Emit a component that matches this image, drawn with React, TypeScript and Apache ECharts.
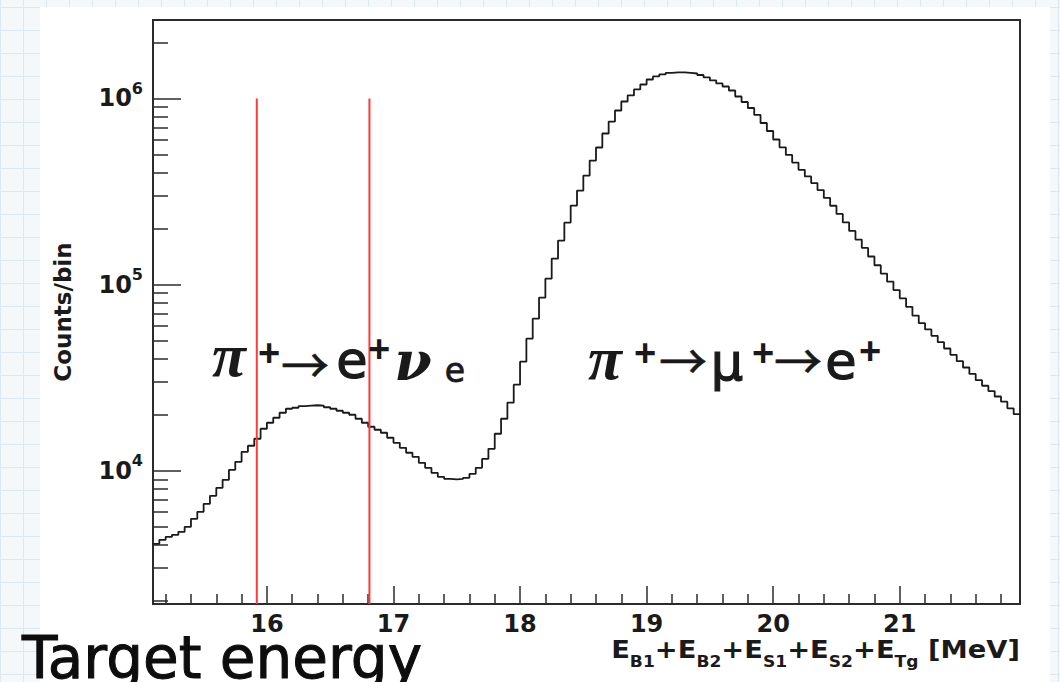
import React, { useEffect, useRef } from "react";
import * as echarts from "echarts";

// ---- data ----
const binStart = 15.1; // MeV, left edge of first bin
const binWidth = 0.05; // MeV
const binCounts: number[] = [
  4051, 4256, 4417, 4528, 4699, 4999, 5521, 6020, 6646, 7337,
  8101, 8944, 10120, 11180, 12650, 13630, 14860, 16820, 18120, 19270,
  20500, 21540, 21810, 22230, 22370, 22500, 22370, 21950, 21540, 21020,
  20500, 20000, 19040, 18120, 17240, 16610, 16010, 15050, 14140, 13290,
  12500, 11890, 11040, 10380, 9755, 9284, 9057, 9000, 9057, 9170,
  9636, 10380, 11600, 13130, 15810, 19040, 23210, 29000, 38550, 51250,
  65650, 85140, 107700, 137950, 172450, 215400, 265900, 320200, 385500, 464200,
  545300, 648400, 752000, 861800, 963600, 1038000, 1118000, 1189000, 1265000, 1313000,
  1346000, 1371000, 1380000, 1380000, 1371000, 1362000, 1337000, 1297000, 1250000, 1204000,
  1160000, 1104000, 1025000, 957700, 889100, 815500, 738600, 668900, 602000, 546700,
  497600, 452800, 413700, 381300, 351400, 322200, 292300, 265400, 239900, 216000,
  194400, 174700, 157400, 141600, 127100, 114700, 103700, 93500, 84400, 76000,
  68240, 62100, 57440, 53080, 49090, 45400, 41970, 38810, 35890, 33150,
  30680, 28640, 26790, 25070, 23500, 21650, 20140,
];
const cutEnergies = [15.92, 16.81];
const cutTop = 1e6;
const xRange = [15.1, 21.95];
const yRange = [1925, 2.64e6];
const xMajorTicks = [16, 17, 18, 19, 20, 21];
const xMinorTicks = [
  15.2, 15.4, 15.6, 15.8, 16.2, 16.4, 16.6, 16.8, 17.2, 17.4, 17.6, 17.8,
  18.2, 18.4, 18.6, 18.8, 19.2, 19.4, 19.6, 19.8, 20.2, 20.4, 20.6, 20.8,
  21.2, 21.4, 21.6, 21.8,
];
const yMajorTicks = [1e4, 1e5, 1e6];
const yMinorTicks = [
  2000, 3000, 4000, 5000, 6000, 7000, 8000, 9000,
  20000, 30000, 40000, 50000, 60000, 70000, 80000, 90000,
  200000, 300000, 400000, 500000, 600000, 700000, 800000, 900000,
  2000000,
];
const yAxisTitle = "Counts/bin";
const bottomTitle = "Target energy";

const AXIS_FONT = "DejaVu Sans";
const INK = "#1a1a1a";
const FRAME = "#2b2b2b";

function glyph(text: string, cx: number, cy: number, size: number, family: string, opts: any = {}) {
  return {
    type: "text",
    x: cx,
    y: cy,
    z: 10,
    silent: true,
    style: {
      text,
      fill: INK,
      stroke: opts.stroke ? INK : undefined,
      lineWidth: opts.stroke || 0,
      fontSize: size,
      fontFamily: family,
      fontWeight: opts.weight || "normal",
      fontStyle: opts.style || "normal",
      align: "center",
      verticalAlign: "middle",
    },
  };
}

export default function App() {
  const ref = useRef<HTMLDivElement>(null);

  useEffect(() => {
    if (!ref.current) return;
    const chart = echarts.init(ref.current, null, { renderer: "svg" });

    const histData: number[][] = binCounts.map((c, i) => [binStart + i * binWidth, c]);
    histData.push([binStart + binCounts.length * binWidth, binCounts[binCounts.length - 1]]);

    const labelFont = { fontFamily: AXIS_FONT, fontWeight: "bold" as const, color: INK };
    const tickLine = { color: FRAME, width: 1.5 };

    const SERIF = "Liberation Serif";
    const SERIF2 = "DejaVu Serif";
    const SANS = "DejaVu Sans";
    const PLUS = "Liberation Sans";
    const CJK = "Noto Sans CJK JP";
    const greek = { weight: "bold", style: "italic" };
    const annotations = [
      // pi+ -> e+ nu_e
      glyph("π", 229, 355, 62, SERIF, greek),
      glyph("+", 269, 353, 38, PLUS, { weight: "bold" }),
      glyph("→", 305, 362, 48, CJK, { stroke: 0.6 }),
      glyph("e", 352, 360, 51, SANS, { stroke: 1.2 }),
      glyph("+", 379, 349, 38, PLUS, { weight: "bold" }),
      glyph("ν", 413, 361, 54, SERIF2, greek),
      glyph("e", 455, 370, 33, SANS, { stroke: 0.8 }),
      // pi+ -> mu+ -> e+
      glyph("π", 605, 358, 62, SERIF, greek),
      glyph("+", 645, 353, 38, PLUS, { weight: "bold" }),
      glyph("→", 683, 358, 48, CJK, { stroke: 0.6 }),
      glyph("μ", 727, 362, 51, SANS, { stroke: 1.2 }),
      glyph("+", 763, 353, 38, PLUS, { weight: "bold" }),
      glyph("→", 798, 358, 48, CJK, { stroke: 0.6 }),
      glyph("e", 841, 361, 51, SANS, { stroke: 1.2 }),
      glyph("+", 870, 351, 38, PLUS, { weight: "bold" }),
    ];

    const subStyle = {
      fontSize: 15, fontWeight: "bold", fontFamily: AXIS_FONT, fill: INK,
      lineHeight: 15, padding: [16, 0, 0, 0], verticalAlign: "top",
    };
    const mainStyle = {
      fontSize: 24, fontWeight: "bold", fontFamily: AXIS_FONT, fill: INK,
      lineHeight: 28, verticalAlign: "top",
    };

    const option: any = {
      animation: false,
      grid: {
        left: 153, right: 40, top: 20, bottom: 78,
        show: true, borderColor: FRAME, borderWidth: 2, backgroundColor: "transparent",
      },
      xAxis: [
        {
          type: "value", min: xRange[0], max: xRange[1], position: "bottom",
          axisLine: { show: true, lineStyle: { color: FRAME, width: 2 } },
          axisTick: { show: true, inside: true, length: 18, customValues: xMajorTicks, lineStyle: tickLine },
          axisLabel: { show: true, customValues: xMajorTicks, margin: 10, fontSize: 24, lineHeight: 20, ...labelFont },
          splitLine: { show: false },
        },
        {
          type: "value", min: xRange[0], max: xRange[1], position: "bottom",
          axisLine: { show: false }, axisLabel: { show: false }, splitLine: { show: false },
          axisTick: { show: true, inside: true, length: 10, customValues: xMinorTicks, lineStyle: tickLine },
        },
      ],
      yAxis: [
        {
          type: "log", logBase: 10, min: yRange[0], max: yRange[1], position: "left",
          name: yAxisTitle, nameLocation: "middle", nameGap: 79, nameRotate: 90,
          nameMoveOverlap: false,
          nameTextStyle: { fontSize: 23, ...labelFont },
          axisLine: { show: true, lineStyle: { color: FRAME, width: 2 } },
          axisTick: { show: true, inside: true, length: 28, customValues: yMajorTicks, lineStyle: tickLine },
          axisLabel: {
            show: true, customValues: yMajorTicks, margin: 10,
            formatter: (v: number) => `{b|10}{s|${Math.round(Math.log10(v))}}`,
            rich: {
              b: { fontSize: 24, fontWeight: "bold", fontFamily: AXIS_FONT, color: INK, lineHeight: 24, verticalAlign: "bottom" },
              s: { fontSize: 16, fontWeight: "bold", fontFamily: AXIS_FONT, color: INK, lineHeight: 16, padding: [0, 0, 14, 0], verticalAlign: "bottom" },
            },
          },
          splitLine: { show: false },
        },
        {
          type: "log", logBase: 10, min: yRange[0], max: yRange[1], position: "left",
          axisLine: { show: false }, axisLabel: { show: false }, splitLine: { show: false },
          axisTick: { show: true, inside: true, length: 15, customValues: yMinorTicks, lineStyle: tickLine },
        },
      ],
      series: [
        {
          type: "line", name: "counts", step: "end", data: histData, symbol: "none",
          xAxisIndex: 0, yAxisIndex: 0, z: 3, silent: true,
          lineStyle: { color: INK, width: 1.8 },
        },
        ...cutEnergies.map((e) => ({
          type: "line", name: `cut ${e}`, data: [[e, cutTop], [e, yRange[0]]], symbol: "none",
          xAxisIndex: 0, yAxisIndex: 0, z: 4, silent: true,
          lineStyle: { color: "#ff3a3a", width: 2 },
        })),
      ],
      graphic: [
        ...annotations,
        {
          type: "text", x: 1020, y: 638, scaleX: 1.14, z: 10, silent: true,
          style: {
            text: "{m|E}{s|B1}{m|+E}{s|B2}{m|+E}{s|S1}{m|+E}{s|S2}{m|+E}{s|Tg}{m| [MeV]}",
            align: "right", verticalAlign: "top",
            rich: { m: mainStyle, s: subStyle },
          },
        },
        {
          type: "text", x: 22, y: 658, z: 10, silent: true,
          style: {
            text: bottomTitle, fill: "#0d0d0d", stroke: "#0d0d0d", lineWidth: 1,
            fontSize: 58, lineHeight: 36, fontFamily: SANS,
            align: "left", verticalAlign: "middle",
          },
        },
      ],
    };

    chart.setOption(option);
    return () => chart.dispose();
  }, []);

  return (
    <div
      style={{
        position: "fixed", left: 0, top: 0, width: 1060, height: 682, overflow: "hidden",
        backgroundColor: "#f4f8fa",
        backgroundImage:
          "linear-gradient(#dbe8ef 1px, transparent 1px), linear-gradient(90deg, #dbe8ef 1px, transparent 1px)",
        backgroundSize: "23px 23px",
        backgroundPosition: "0px 7px",
      }}
    >
      <div style={{ position: "absolute", left: 40, top: 7, width: 1010, height: 675, background: "#ffffff" }} />
      <div ref={ref} style={{ position: "absolute", left: 0, top: 0, width: 1060, height: 682 }} />
    </div>
  );
}
